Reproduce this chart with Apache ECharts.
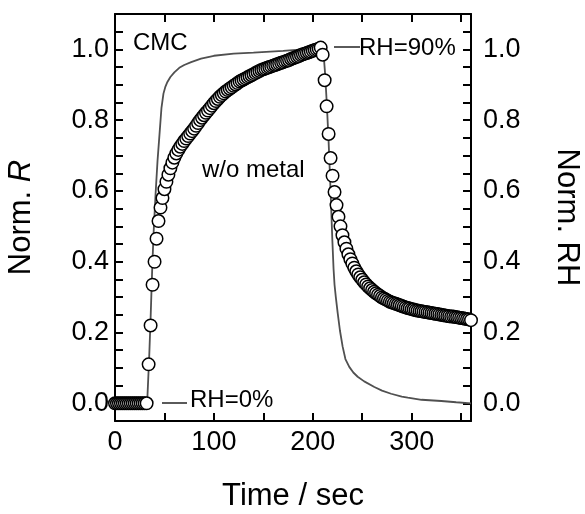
<!DOCTYPE html>
<html>
<head>
<meta charset="utf-8">
<script src="https://cdn.jsdelivr.net/npm/echarts@6/dist/echarts.min.js"></script>
<style>
  html, body { margin: 0; padding: 0; background: #fff; }
  #chart { width: 585px; height: 514px; }
</style>
</head>
<body>
<div id="chart"></div>
<script>
// 时间 (sec) — 圆点数据 (w/o metal, Norm. R)
const timeR = [
  0, 2, 4, 6, 8, 10, 12, 14, 16, 18, 20, 22, 24, 26, 28, 30, 32, 34, 36, 38,
  40, 42, 44, 46, 48, 50, 52, 54, 56, 58, 60, 62, 64, 66, 68, 70, 72, 74, 76, 78,
  80, 82, 84, 86, 88, 90, 92, 94, 96, 98, 100, 102, 104, 106, 108, 110, 112, 114, 116, 118,
  120, 122, 124, 126, 128, 130, 132, 134, 136, 138, 140, 142, 144, 146, 148, 150, 152, 154, 156, 158,
  160, 162, 164, 166, 168, 170, 172, 174, 176, 178, 180, 182, 184, 186, 188, 190, 192, 194, 196, 198,
  200, 202, 204, 206, 208, 210, 212, 214, 216, 218, 220, 222, 224, 226, 228, 230, 232, 234, 236, 238,
  240, 242, 244, 246, 248, 250, 252, 254, 256, 258, 260, 262, 264, 266, 268, 270, 272, 274, 276, 278,
  280, 282, 284, 286, 288, 290, 292, 294, 296, 298, 300, 302, 304, 306, 308, 310, 312, 314, 316, 318,
  320, 322, 324, 326, 328, 330, 332, 334, 336, 338, 340, 342, 344, 346, 348, 350, 352, 354, 356, 358,
  360
];
const normR = [
  0, 0, 0, 0, 0, 0, 0, 0, 0, 0, 0, 0, 0, 0, 0, 0, 0, 0.11, 0.22, 0.335,
  0.40, 0.465, 0.515, 0.553, 0.580, 0.605, 0.626, 0.646, 0.664, 0.680, 0.694, 0.706, 0.716, 0.725, 0.733, 0.741, 0.748, 0.755, 0.762, 0.769,
  0.776, 0.784, 0.792, 0.800, 0.807, 0.814, 0.821, 0.827, 0.834, 0.841, 0.848, 0.854, 0.860, 0.866, 0.871, 0.876, 0.881, 0.885, 0.889, 0.893,
  0.897, 0.901, 0.905, 0.909, 0.912, 0.915, 0.918, 0.921, 0.924, 0.927, 0.930, 0.933, 0.936, 0.939, 0.942, 0.944, 0.946, 0.948, 0.950, 0.952,
  0.954, 0.956, 0.958, 0.960, 0.962, 0.964, 0.966, 0.968, 0.970, 0.973, 0.975, 0.977, 0.979, 0.981, 0.984, 0.986, 0.988, 0.990, 0.992, 0.994,
  0.996, 0.998, 1.000, 1.002, 1.005, 0.985, 0.913, 0.839, 0.761, 0.693, 0.643, 0.597, 0.560, 0.527, 0.500, 0.475, 0.455, 0.437, 0.421, 0.407,
  0.395, 0.383, 0.373, 0.364, 0.356, 0.349, 0.342, 0.336, 0.330, 0.325, 0.320, 0.315, 0.311, 0.307, 0.303, 0.299, 0.296, 0.293, 0.290, 0.287,
  0.285, 0.283, 0.281, 0.279, 0.277, 0.275, 0.273, 0.271, 0.269, 0.268, 0.266, 0.265, 0.263, 0.262, 0.261, 0.260, 0.259, 0.258, 0.257, 0.256,
  0.255, 0.254, 0.253, 0.252, 0.251, 0.250, 0.249, 0.248, 0.247, 0.246, 0.245, 0.245, 0.244, 0.243, 0.242, 0.241, 0.240, 0.239, 0.238, 0.237,
  0.235
];
// 湿度曲线 (Norm. RH)
const rhTime = [
  0, 32.5, 34.5, 36, 37.5, 39, 41, 43, 45, 47,
  49, 51, 53, 56, 60, 65, 70, 77, 87, 100,
  120, 140, 170, 190, 209.5, 211, 212.5, 214.3, 216, 217.3,
  218.5, 219.8, 221, 222, 223.3, 225.2, 227.5, 230.2, 233, 236.9,
  241, 245.4, 252, 262.3, 270, 279.2, 290, 296.1, 310, 330,
  345, 360
];
const rhValue = [
  0, 0, 0.125, 0.24, 0.37, 0.48, 0.59, 0.685, 0.76, 0.835,
  0.875, 0.895, 0.908, 0.922, 0.935, 0.948, 0.956, 0.964, 0.974, 0.982,
  0.988, 0.991, 0.996, 1.0, 1.0, 0.985, 0.93, 0.84, 0.74, 0.65,
  0.56, 0.46, 0.38, 0.335, 0.30, 0.255, 0.205, 0.16, 0.125, 0.103,
  0.087, 0.075, 0.062, 0.046, 0.036, 0.027, 0.019, 0.016, 0.010, 0.0065,
  0.003, 0
];
const xLabels = [0, 100, 200, 300];
const yLabels = [0, 0.2, 0.4, 0.6, 0.8, 1.0];

const FONT = 'Liberation Sans';
let chart = echarts.init(document.getElementById('chart'));

function xFmt(v) {
  return xLabels.indexOf(Math.round(v)) >= 0 && Math.abs(v - Math.round(v)) < 1e-6 ? String(Math.round(v)) : '';
}
function yFmt(v) {
  for (let i = 0; i < yLabels.length; i++) {
    if (Math.abs(v - yLabels[i]) < 1e-6) return yLabels[i].toFixed(1);
  }
  return '';
}

const axisLine = { show: true, onZero: false, lineStyle: { color: '#000', width: 2 } };
const axisTick = { show: true, inside: true, length: 8, lineStyle: { color: '#000', width: 2 } };

let option = {
  animation: false,
  textStyle: { fontFamily: FONT },
  grid: { left: 115, right: 114, top: 14, bottom: 93, outerBoundsMode: 'none', containLabel: false },
  xAxis: [
    {
      type: 'value', position: 'bottom', min: 0, max: 360, interval: 50,
      axisLine: axisLine, axisTick: axisTick, splitLine: { show: false },
      axisLabel: { formatter: xFmt, fontSize: 27, color: '#000', margin: 8, showMaxLabel: false },
      name: 'Time / sec', nameLocation: 'middle', nameGap: 60,
      nameTextStyle: { fontSize: 31, color: '#000' }
    },
    {
      type: 'value', position: 'top', min: 0, max: 360, interval: 50,
      axisLine: axisLine, axisTick: axisTick, splitLine: { show: false },
      axisLabel: { show: false }
    }
  ],
  yAxis: [
    {
      type: 'value', position: 'left', min: -0.05, max: 1.1, interval: 0.05,
      axisLine: axisLine, axisTick: axisTick, splitLine: { show: false },
      axisLabel: { formatter: yFmt, fontSize: 27, color: '#000', margin: 6 },
      name: '{n|Norm. }{i|R}', nameLocation: 'middle', nameGap: 78, nameRotate: 90,
      nameTextStyle: {
        fontSize: 31, color: '#000',
        rich: {
          n: { fontSize: 31, fontFamily: FONT, color: '#000' },
          i: { fontSize: 31, fontFamily: FONT, fontStyle: 'italic', color: '#000' }
        }
      }
    },
    {
      type: 'value', position: 'right', min: -0.05, max: 1.1, interval: 0.05,
      axisLine: axisLine, axisTick: axisTick, splitLine: { show: false },
      axisLabel: { formatter: yFmt, fontSize: 27, color: '#000', margin: 12 },
      name: 'Norm. RH', nameLocation: 'middle', nameGap: 80, nameRotate: -90,
      nameTextStyle: { fontSize: 31, color: '#000' }
    }
  ],
  graphic: [
    { type: 'text', x: 133, y: 43, style: { text: 'CMC', font: '24px "Liberation Sans"', fill: '#000', verticalAlign: 'middle' } },
    { type: 'text', x: 202, y: 170, style: { text: 'w/o metal', font: '24px "Liberation Sans"', fill: '#000', verticalAlign: 'middle' } },
    { type: 'line', shape: { x1: 334, y1: 47, x2: 360, y2: 47 }, style: { stroke: '#000', lineWidth: 1.3 } },
    { type: 'text', x: 359, y: 48, style: { text: 'RH=90%', font: '24px "Liberation Sans"', fill: '#000', verticalAlign: 'middle' } },
    { type: 'line', shape: { x1: 162, y1: 403, x2: 187, y2: 403 }, style: { stroke: '#000', lineWidth: 1.3 } },
    { type: 'text', x: 190, y: 400, style: { text: 'RH=0%', font: '24px "Liberation Sans"', fill: '#000', verticalAlign: 'middle' } }
  ],
  series: [
    {
      name: 'RH', type: 'line', xAxisIndex: 0, yAxisIndex: 0,
      data: rhTime.map((t, i) => [t, rhValue[i]]),
      showSymbol: false, smooth: false, z: 1,
      lineStyle: { color: '#505050', width: 1.8 }
    },
    {
      name: 'w/o metal', type: 'scatter', xAxisIndex: 0, yAxisIndex: 0,
      data: timeR.map((t, i) => [t, normR[i]]),
      symbol: 'circle', symbolSize: 12.5, z: 2,
      itemStyle: { color: '#fff', borderColor: '#000', borderWidth: 1.5, opacity: 1 }
    }
  ]
};
chart.setOption(option);
</script>
</body>
</html>
